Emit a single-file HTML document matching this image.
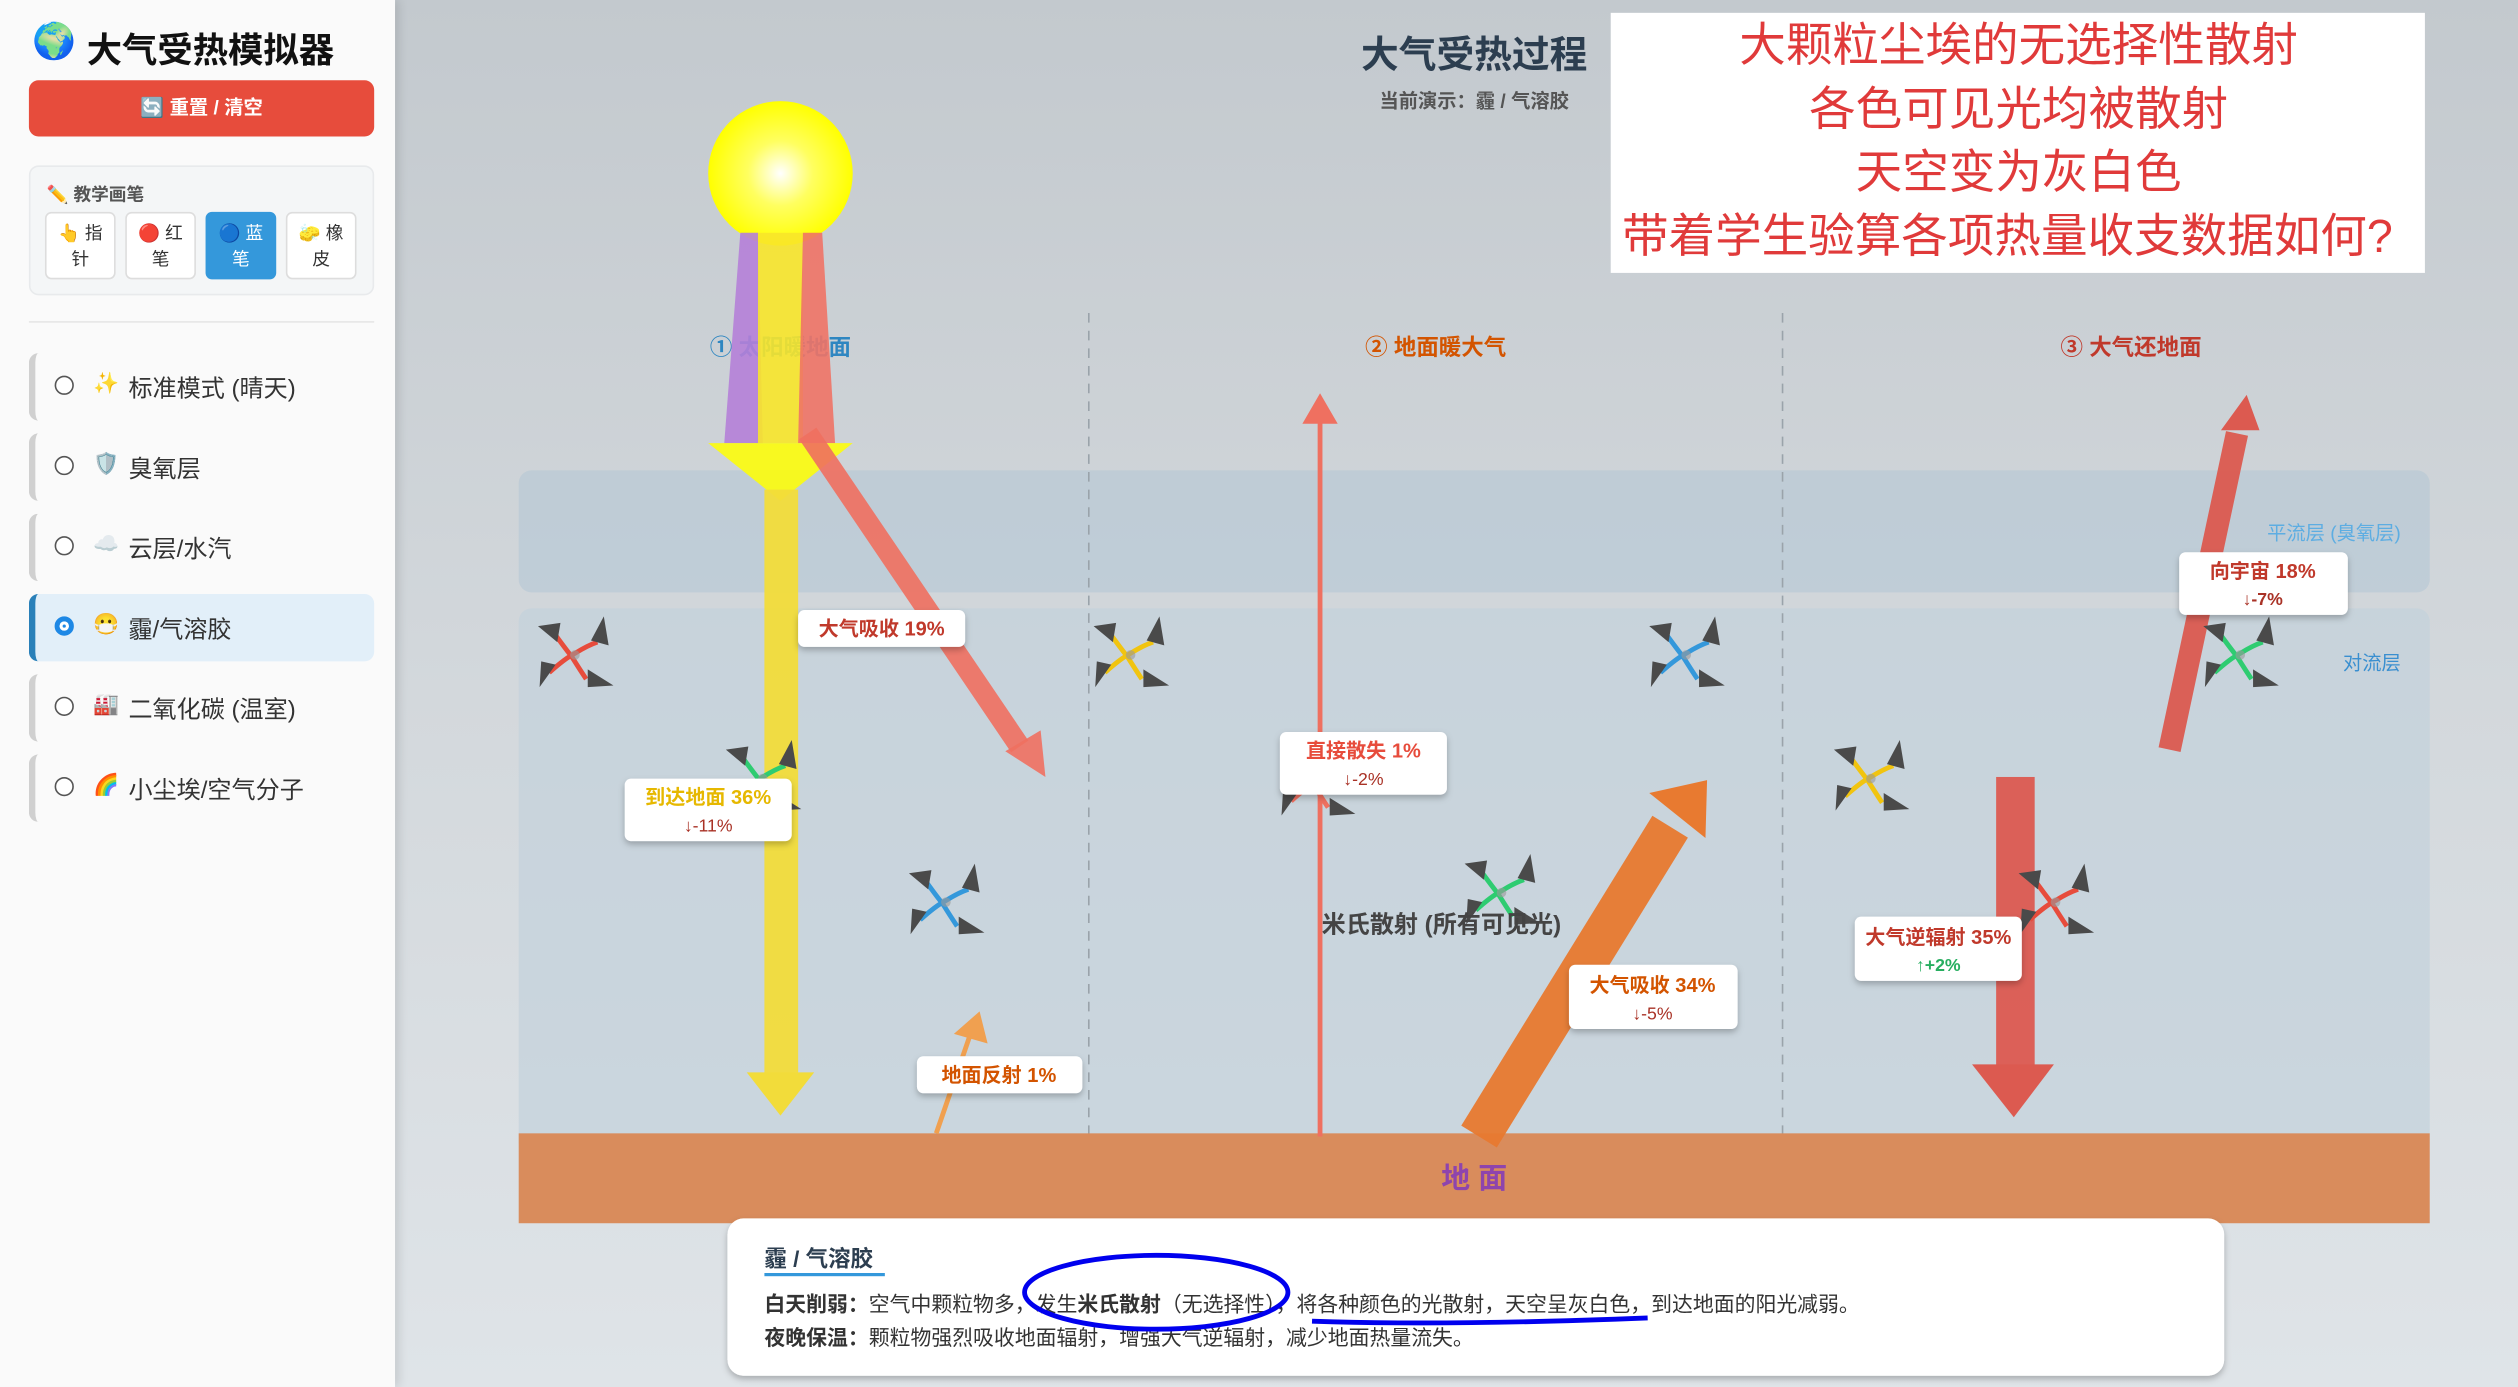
<!DOCTYPE html>
<html><head><meta charset="utf-8">
<style>
*{margin:0;padding:0;box-sizing:border-box}
html,body{width:2518px;height:1387px;overflow:hidden;background:#d5dade}
#w{position:absolute;left:0;top:0;width:1568px;height:864px;transform-origin:0 0;transform:scale(1.6059,1.6053);font-family:"Liberation Sans","Noto Sans CJK SC",sans-serif;background:linear-gradient(180deg,#c3c9ce 0%,#d3d8dc 50%,#dfe4e8 100%)}
#side{position:absolute;left:0;top:0;width:246px;height:864px;background:#fafafa;box-shadow:2px 0 6px rgba(0,0,0,.12)}
.t{position:absolute;white-space:nowrap}
.item{position:absolute;left:18px;width:215px;height:42px;border-left:4px solid #d0d0d0;border-radius:6px;font-size:15px;color:#333}
.item .r{position:absolute;left:12px;top:14px;width:12px;height:12px;border:1px solid #555;border-radius:50%;background:#fff}
.item .ic{position:absolute;left:36px;top:11px;font-size:13px}
.item .tx{position:absolute;left:58px;top:11px}
.pb{position:absolute;top:132px;width:44px;height:42px;border:1px solid #ddd;border-radius:4px;background:#fff;font-size:11px;text-align:center;line-height:16px;padding-top:5px;color:#333}
</style></head><body><div id="w">
<div id="side">
 <div class="t" style="left:20px;top:13px;font-size:22px">🌍</div>
 <div class="t" style="left:54px;top:14px;font-size:22px;font-weight:bold;color:#111">大气受热模拟器</div>
 <div class="t" style="left:18px;top:50px;width:215px;height:35px;background:#e74c3c;border-radius:6px;color:#fff;font-size:12px;font-weight:bold;text-align:center;line-height:35px">🔄 重置 / 清空</div>
 <div class="t" style="left:18px;top:103px;width:215px;height:81px;background:#f4f6f7;border:1px solid #e8eaec;border-radius:6px"></div>
 <div class="t" style="left:29px;top:113px;font-size:11px;font-weight:bold;color:#555">✏️ 教学画笔</div>
 <div class="pb" style="left:28px">👆 指<br>针</div>
 <div class="pb" style="left:78px">🔴 红<br>笔</div>
 <div class="pb" style="left:128px;background:#3498db;border-color:#3498db;color:#fff">🔵 蓝<br>笔</div>
 <div class="pb" style="left:178px">🧽 橡<br>皮</div>
 <div class="t" style="left:18px;top:200px;width:215px;height:1px;background:#e6e6e6"></div>
 <div class="item" style="top:220px"><div class="r"></div><div class="ic">✨</div><div class="tx">标准模式 (晴天)</div></div>
 <div class="item" style="top:270px"><div class="r"></div><div class="ic">🛡️</div><div class="tx">臭氧层</div></div>
 <div class="item" style="top:320px"><div class="r"></div><div class="ic">☁️</div><div class="tx">云层/水汽</div></div>
 <div class="item" style="top:370px;background:#e2eff9;border-left-color:#2980b9"><div class="r" style="border:3px solid #1e88e5;box-shadow:inset 0 0 0 2px #fff;background:#1e88e5"></div><div class="ic">😷</div><div class="tx">霾/气溶胶</div></div>
 <div class="item" style="top:420px"><div class="r"></div><div class="ic">🏭</div><div class="tx">二氧化碳 (温室)</div></div>
 <div class="item" style="top:470px"><div class="r"></div><div class="ic">🌈</div><div class="tx">小尘埃/空气分子</div></div>
</div>

<svg style="position:absolute;left:0;top:0" width="1568" height="864" viewBox="0 0 1568 864" font-family="Liberation Sans, Noto Sans CJK SC, sans-serif">
<defs>
<radialGradient id="sun" cx="50%" cy="50%" r="50%"><stop offset="0" stop-color="#fff"/><stop offset=".45" stop-color="#ffff60"/><stop offset="1" stop-color="#ffff00"/></radialGradient>
<filter id="sh" x="-20%" y="-30%" width="140%" height="170%"><feDropShadow dx="0" dy="2" stdDeviation="2" flood-opacity=".25"/></filter>
<g id="mol">
<path d="M-14,-15 Q-6,-4 -2,1 Q3,9 7,15" fill="none" stroke="currentColor" stroke-width="3"/>
<path d="M-16,11 Q-6,2 0,-1 Q8,-6 14,-8" fill="none" stroke="currentColor" stroke-width="3"/>
<circle r="3" fill="#999" opacity=".6"/>
<polygon points="-23,-18 -9,-20 -11,-8" fill="#4a4a4a"/>
<polygon points="18,-24 21,-6 10,-9" fill="#4a4a4a"/>
<polygon points="-22,20 -21,4 -12,6" fill="#4a4a4a"/>
<polygon points="8,9 24,19 8,20" fill="#4a4a4a"/>
</g>
</defs>
<rect x="323" y="293" width="1190" height="76" rx="8" fill="#b9c9d6" opacity=".75"/>
<rect x="323" y="379" width="1190" height="340" rx="8" fill="#c3d1dc" opacity=".7"/>
<line x1="678" y1="195" x2="678" y2="760" stroke="#9aa3aa" stroke-dasharray="6,5" stroke-width="1"/>
<line x1="1110" y1="195" x2="1110" y2="760" stroke="#9aa3aa" stroke-dasharray="6,5" stroke-width="1"/>
<text x="1495" y="336" font-size="12" fill="#5dade2" text-anchor="end">平流层 (臭氧层)</text>
<text x="1495" y="417" font-size="12" fill="#3a8fd0" text-anchor="end">对流层</text>
<rect x="323" y="706" width="1190" height="56" fill="#d98c5c"/>
<text x="918" y="740" font-size="18" font-weight="bold" fill="#8e44ad" text-anchor="middle">地 面</text>
<text x="918" y="42" font-size="23.5" font-weight="bold" fill="#2c3e50" text-anchor="middle">大气受热过程</text>
<text x="918" y="67" font-size="12" font-weight="bold" fill="#555" text-anchor="middle">当前演示：霾 / 气溶胶</text>
<text x="486" y="221" font-size="14" font-weight="bold" fill="#2e86c1" text-anchor="middle">① 太阳暖地面</text>
<text x="894" y="221" font-size="14" font-weight="bold" fill="#d35400" text-anchor="middle">② 地面暖大气</text>
<text x="1327" y="221" font-size="14" font-weight="bold" fill="#c0392b" text-anchor="middle">③ 大气还地面</text>
<circle cx="486" cy="108" r="45" fill="url(#sun)"/>
<polygon points="461,145 472,145 475,276 451,276" fill="#b57fd8" opacity=".9"/>
<polygon points="472,145 500,145 500,276 472,276" fill="#f8e52a" opacity=".9"/>
<polygon points="500,145 512,145 520,276 497,276" fill="#f07366" opacity=".9"/>
<polygon points="441,276 531,276 486,312" fill="#ffff00" opacity=".85"/>
<rect x="476" y="305" width="21" height="365" fill="#f2dc3a" opacity=".95"/>
<polygon points="465,668 507,668 486,695" fill="#f2dc3a"/>
<line x1="503" y1="270" x2="635" y2="465" stroke="#f07060" stroke-width="13" opacity=".9"/>
<polygon points="626,468 651,484 648,455" fill="#f07060" opacity=".9"/>
<line x1="583" y1="706" x2="604" y2="645" stroke="#f0a050" stroke-width="3"/>
<polygon points="594,644 615,650 610,630" fill="#f0a050"/>
<line x1="822" y1="262" x2="822" y2="708" stroke="#ef7060" stroke-width="3"/>
<polygon points="811,264 833,264 822,245" fill="#ef7060"/>
<line x1="921" y1="708" x2="1040" y2="515" stroke="#e87a30" stroke-width="26" opacity=".95"/>
<polygon points="1027,494 1063,486 1062,522" fill="#e87a30"/>
<line x1="1351" y1="467" x2="1393" y2="270" stroke="#dc5a50" stroke-width="14" opacity=".95"/>
<polygon points="1383,268 1407,268 1399,246" fill="#dc5a50"/>
<rect x="1243" y="484" width="24" height="180" fill="#dc5a50" opacity=".95"/>
<polygon points="1228,663 1279,663 1254,696" fill="#dc5a50"/>
<use href="#mol" x="358" y="408" style="color:#e74c3c"/>
<use href="#mol" x="704" y="408" style="color:#f1c40f"/>
<use href="#mol" x="1050" y="408" style="color:#3498db"/>
<use href="#mol" x="475" y="485" style="color:#2ecc71"/>
<use href="#mol" x="589" y="562" style="color:#3498db"/>
<use href="#mol" x="935" y="556" style="color:#2ecc71"/>
<use href="#mol" x="820" y="488" style="color:#ef7060"/>
<use href="#mol" x="1165" y="485" style="color:#f1c40f"/>
<use href="#mol" x="1395" y="408" style="color:#2ecc71"/>
<use href="#mol" x="1280" y="562" style="color:#e74c3c"/>
<text x="823" y="581" font-size="15" font-weight="bold" fill="#444">米氏散射 (所有可见光)</text>
<g filter="url(#sh)" fill="#fff">
<rect x="497" y="380" width="104" height="23" rx="4"/>
<rect x="389" y="485" width="104" height="39" rx="4"/>
<rect x="571" y="658" width="103" height="23" rx="4"/>
<rect x="797" y="456" width="104" height="39" rx="4"/>
<rect x="977" y="601" width="105" height="40" rx="4"/>
<rect x="1357" y="344" width="105" height="39" rx="4"/>
<rect x="1155" y="571" width="104" height="40" rx="4"/>
</g>
<g font-size="12.5" font-weight="bold" text-anchor="middle">
<text x="549" y="396" fill="#c0392b">大气吸收 19%</text>
<text x="441" y="501" fill="#e6b800">到达地面 36%</text><text x="441" y="518" fill="#a93226" font-weight="normal" font-size="11">↓-11%</text>
<text x="622" y="674" fill="#d35400">地面反射 1%</text>
<text x="849" y="472" fill="#e74c3c">直接散失 1%</text><text x="849" y="489" fill="#a93226" font-weight="normal" font-size="11">↓-2%</text>
<text x="1029" y="618" fill="#d35400">大气吸收 34%</text><text x="1029" y="635" fill="#a93226" font-weight="normal" font-size="11">↓-5%</text>
<text x="1409" y="360" fill="#c0392b">向宇宙 18%</text><text x="1409" y="377" fill="#a93226" font-size="11">↓-7%</text>
<text x="1207" y="588" fill="#c0392b">大气逆辐射 35%</text><text x="1207" y="605" fill="#27ae60" font-size="11">↑+2%</text>
</g>
<rect x="1003" y="8" width="507" height="162" fill="#fff"/>
<g font-size="29" fill="#e03a3a" text-anchor="middle">
<text x="1257" y="38">大颗粒尘埃的无选择性散射</text>
<text x="1257" y="78">各色可见光均被散射</text>
<text x="1257" y="117">天空变为灰白色</text>
<text x="1250" y="157">带着学生验算各项热量收支数据如何?</text>
</g>
<rect x="453" y="759" width="932" height="98" rx="10" fill="#fff" filter="url(#sh)"/>
<text x="476" y="789" font-size="14" font-weight="bold" fill="#2c3e50">霾 / 气溶胶</text>
<rect x="476" y="793" width="75" height="2" fill="#3498db"/>
<text x="476" y="817" font-size="13" fill="#333"><tspan font-weight="bold">白天削弱：</tspan>空气中颗粒物多，发生<tspan font-weight="bold">米氏散射</tspan>（无选择性），将各种颜色的光散射，天空呈灰白色，到达地面的阳光减弱。</text>
<text x="476" y="838" font-size="13" fill="#333"><tspan font-weight="bold">夜晚保温：</tspan>颗粒物强烈吸收地面辐射，增强大气逆辐射，减少地面热量流失。</text>
<ellipse cx="720" cy="805" rx="82" ry="23" fill="none" stroke="#0000ee" stroke-width="3"/>
<path d="M817,823 Q900,826 1026,821" fill="none" stroke="#0000ee" stroke-width="3"/>
</svg>
</div></body></html>
